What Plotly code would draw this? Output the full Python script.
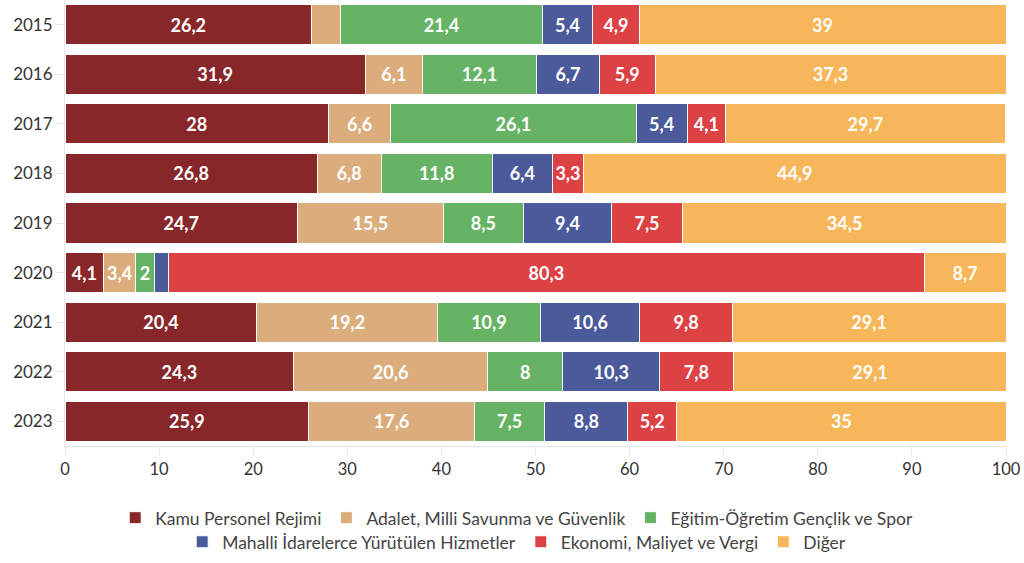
import plotly.graph_objects as go

years = ["2015", "2016", "2017", "2018", "2019", "2020", "2021", "2022", "2023"]

kamu = [26.2, 31.9, 28, 26.8, 24.7, 4.1, 20.4, 24.3, 25.9]
adalet = [3.1, 6.1, 6.6, 6.8, 15.5, 3.4, 19.2, 20.6, 17.6]
egitim = [21.4, 12.1, 26.1, 11.8, 8.5, 2, 10.9, 8, 7.5]
mahalli = [5.4, 6.7, 5.4, 6.4, 9.4, 1.5, 10.6, 10.3, 8.8]
ekonomi = [4.9, 5.9, 4.1, 3.3, 7.5, 80.3, 9.8, 7.8, 5.2]
diger = [39, 37.3, 29.7, 44.9, 34.5, 8.7, 29.1, 29.1, 35]

# name, values, colour, legend row
series = [
    ("Kamu Personel Rejimi", kamu, "#88272a", "legend"),
    ("Adalet, Milli Savunma ve Güvenlik", adalet, "#dbad7d", "legend"),
    ("Eğitim-Öğretim Gençlik ve Spor", egitim, "#66b366", "legend"),
    ("Mahalli İdarelerce Yürütülen Hizmetler", mahalli, "#4b5a9b", "legend2"),
    ("Ekonomi, Maliyet ve Vergi", ekonomi, "#dc4144", "legend2"),
    ("Diğer", diger, "#f7b659", "legend2"),
]

# segments the original leaves unlabelled
hidden = {("Adalet, Milli Savunma ve Güvenlik", "2015"),
          ("Mahalli İdarelerce Yürütülen Hizmetler", "2020")}


def label(v):
    return f"{v:g}".replace(".", ",")


fig = go.Figure()
for name, vals, color, lg in series:
    txt = ["" if (name, y) in hidden else label(v) for y, v in zip(years, vals)]
    fig.add_trace(go.Bar(
        y=years, x=vals, name=name, orientation="h", legend=lg,
        marker=dict(color=color, line=dict(color="white", width=1)),
        text=txt, textposition="inside", insidetextanchor="middle",
        textangle=0, constraintext="none",
        textfont=dict(color="white", size=18, family="Lato", weight="bold"),
        hoverinfo="x+y+name",
    ))

legend_style = dict(
    orientation="h", x=0.48, xanchor="center", yanchor="middle",
    font=dict(size=17.5, color="#444"), traceorder="normal",
    itemwidth=30, bgcolor="rgba(0,0,0,0)",
)

fig.update_layout(
    barmode="stack",
    bargap=0.19,
    width=1024, height=563,
    margin=dict(l=65, r=18, t=0, b=117),
    plot_bgcolor="white", paper_bgcolor="white",
    font=dict(family="Lato", color="#333"),
    separators=",.",
    showlegend=True,
    legend=dict(legend_style, y=-0.161),
    legend2=dict(legend_style, y=-0.215),
    xaxis=dict(
        range=[0, 100], dtick=10, showgrid=False, zeroline=False,
        showline=True, linecolor="#e6e6e6", ticks="outside", ticklen=8,
        tickcolor="#e6e6e6", tickfont=dict(size=16.5, color="#333"),
    ),
    yaxis=dict(
        autorange="reversed", showgrid=False, showline=True, linecolor="#e6e6e6",
        ticks="outside", ticklen=8, tickcolor="#e6e6e6",
        tickfont=dict(size=17, color="#333"),
    ),
)

fig.write_html("out.html", config={"displayModeBar": False},
               post_script="document.body.style.margin='0';")
